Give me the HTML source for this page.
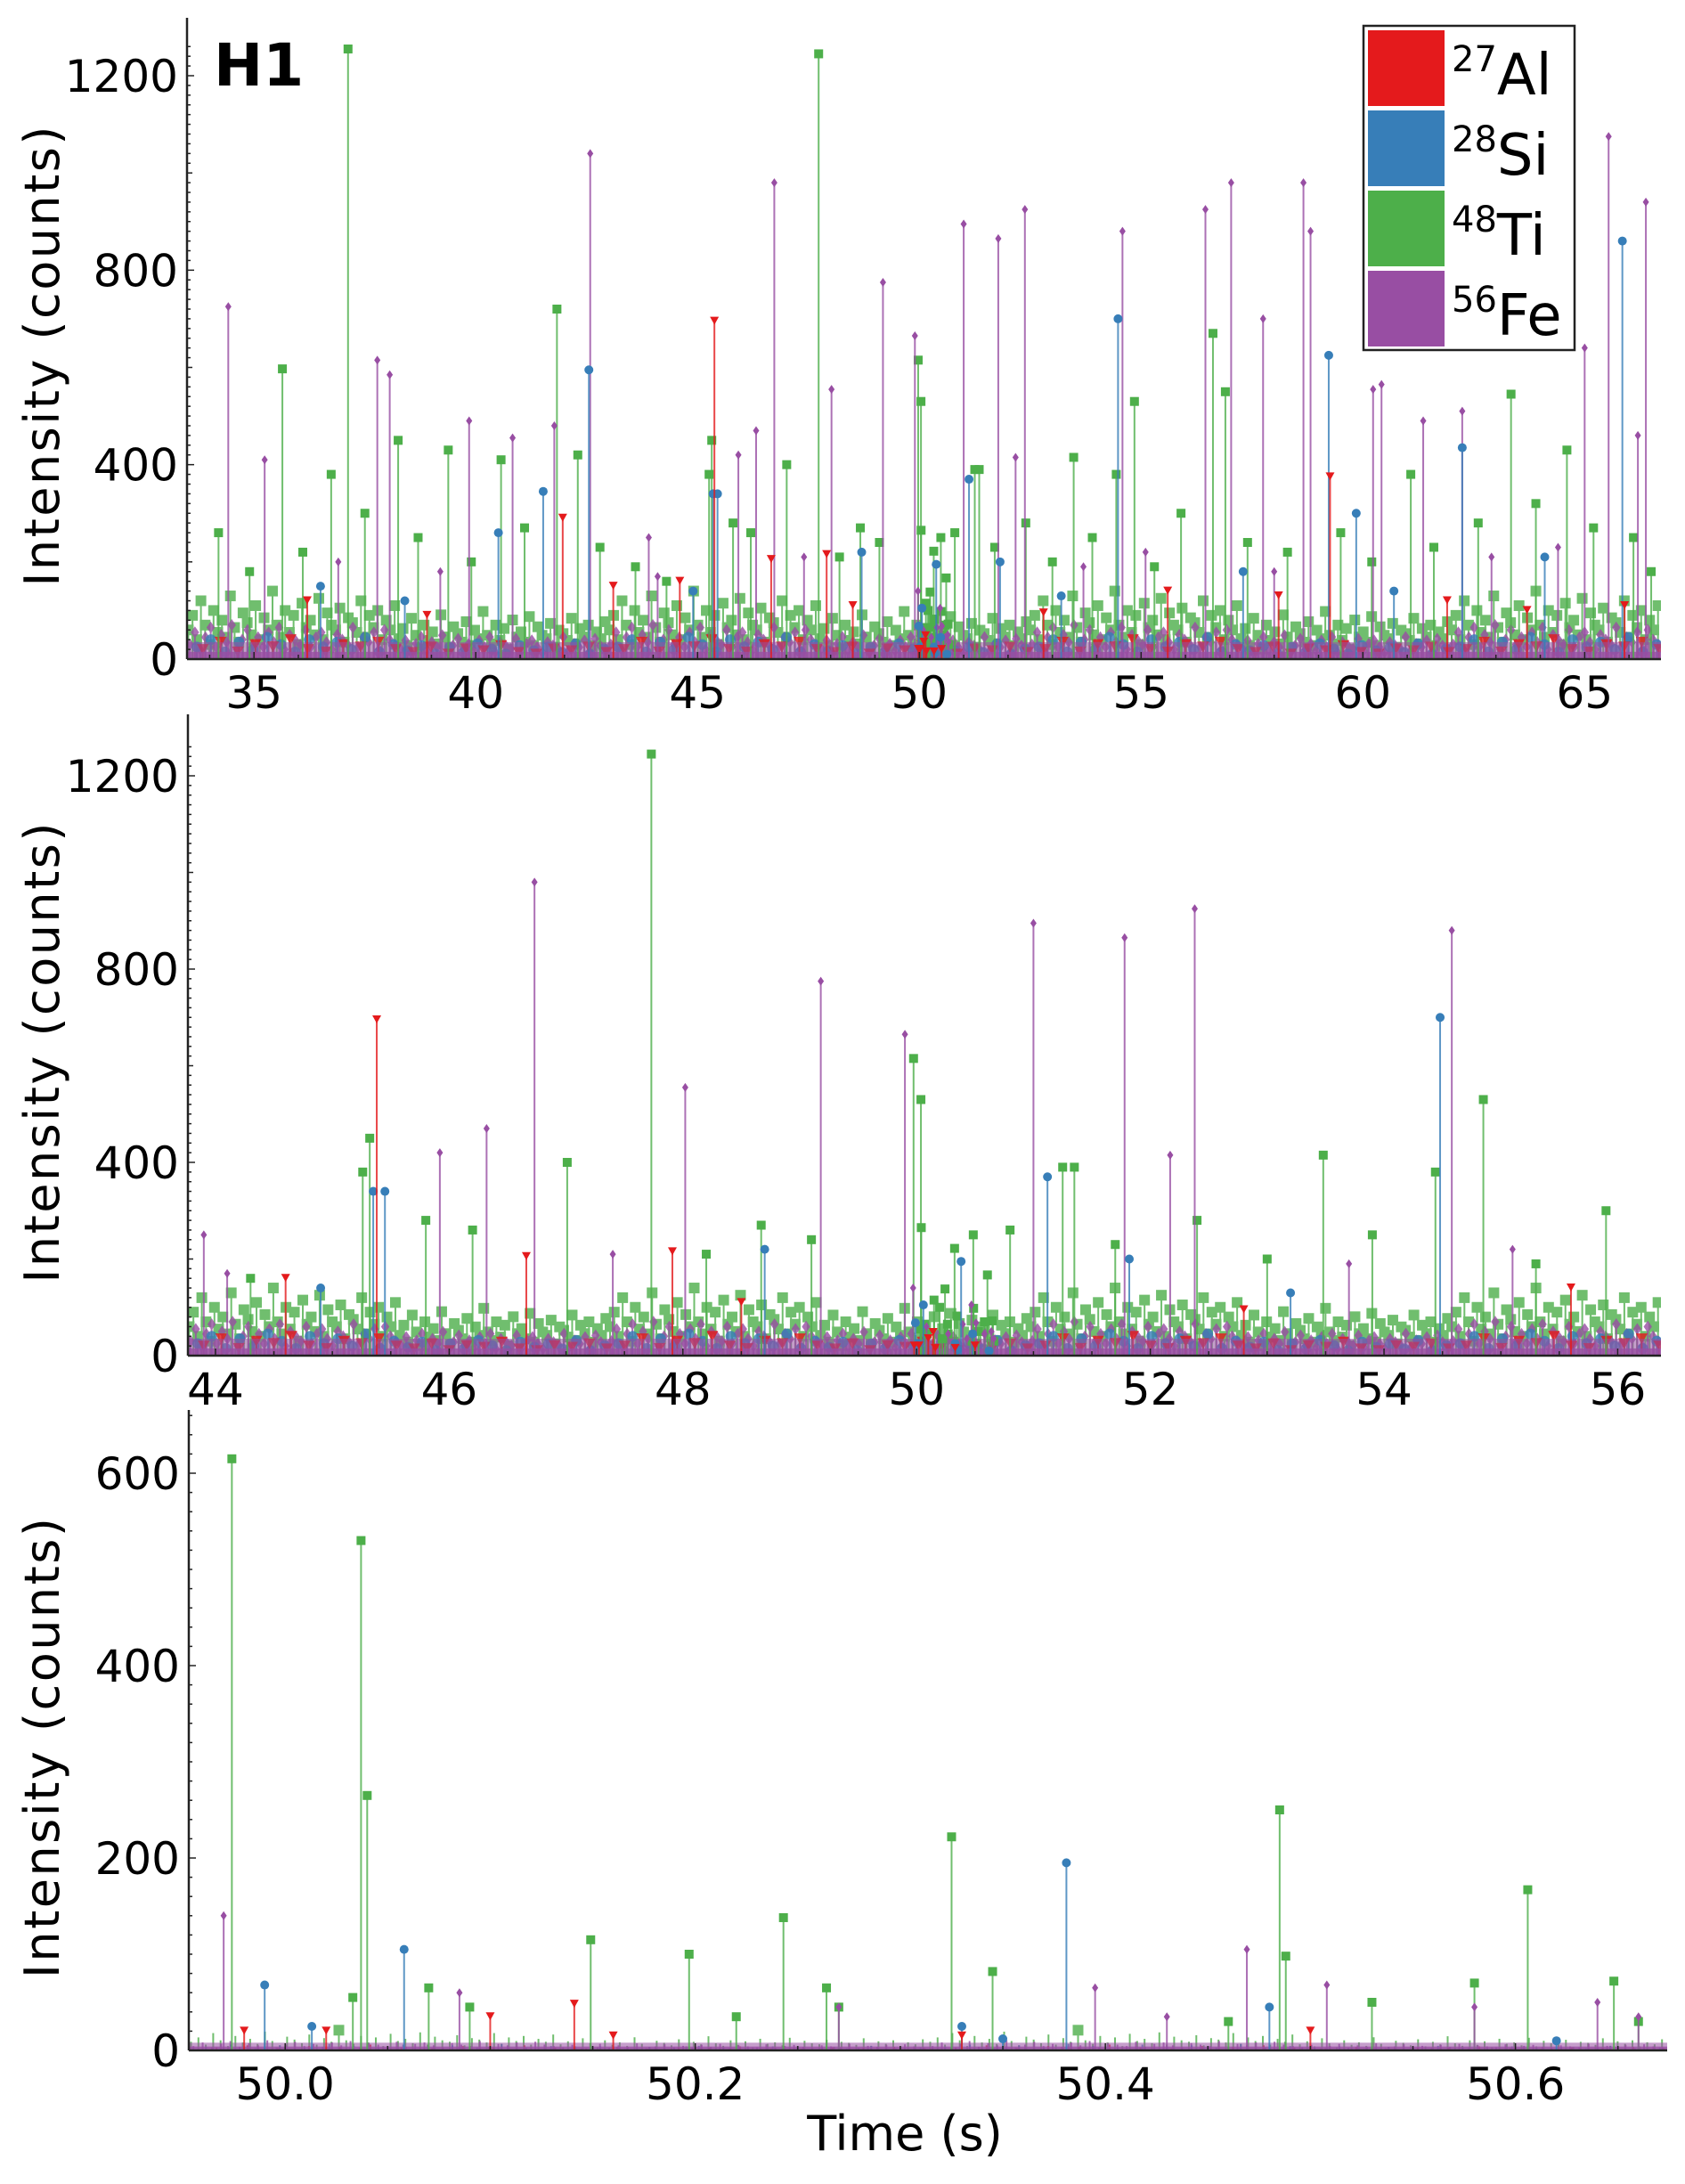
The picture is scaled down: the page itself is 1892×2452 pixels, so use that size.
<!DOCTYPE html>
<html><head><meta charset="utf-8"><style>
html,body{margin:0;padding:0;background:#fff}
svg{display:block}
text{font-family:"DejaVu Sans","Liberation Sans",sans-serif;fill:#000}
</style></head><body>
<svg id="chart" width="1892" height="2452" viewBox="0 0 1892 2452" xmlns="http://www.w3.org/2000/svg"></svg>
<script>
// ---- data (time s, counts) ----
const alTimes=[45.38,59.26,41.96,47.91,46.66,50.141,50.1,36.2,38.9,43.1,44.6,48.5,52.8,55.6,58.1,61.9,63.7,65.9,49.98,50.02,50.16,50.33,50.5];
const alVals =[695,375,290,215,205,48,35,120,90,150,160,110,95,140,130,120,100,110,20,20,15,15,20];
const siTimes=[54.48,42.55,59.23,65.85,62.24,51.12,41.52,45.35,45.45,40.51,59.85,51.82,50.381,50.058,49.99,50.013,36.5,38.4,44.9,48.7,53.2,57.3,60.7,64.1,50.33,50.35,50.48,50.62];
const siVals =[700,595,625,860,435,370,345,340,340,260,300,200,195,105,68,25,150,120,140,220,130,180,140,210,25,12,45,10];
const tiTimes=[37.12,47.73,41.83,35.64,49.974,50.037,50.04,56.62,63.34,38.25,45.32,45.26,47.01,39.38,40.57,56.9,54.85,64.6,42.3,36.74,51.25,51.35,53.48,61.08,54.44,48.67,50.149,50.197,50.243,50.325,50.345,50.485,50.488,50.606,50.648,50.264,50.033,
 50.07,50.09,50.22,50.27,50.46,50.53,50.58,50.66,
 34.2,34.9,36.1,37.5,38.7,39.9,41.1,42.8,43.6,44.3,45.8,46.2,48.2,49.1,50.8,51.7,52.4,53.0,53.9,55.3,55.9,57.4,58.3,59.5,60.2,61.6,62.6,63.9,65.2,66.1,66.5];
const tiVals =[1255,1245,720,597,615,530,265,670,545,450,450,380,400,430,410,550,530,430,420,380,390,390,415,380,380,270,115,100,138,222,82,250,98,167,72,65,55,
 65,45,35,45,30,50,70,30,
 260,180,220,300,250,200,270,230,190,160,280,260,210,240,260,230,280,200,250,190,300,240,220,260,200,230,280,320,270,250,180];
const feTimes=[34.42,42.58,46.73,49.18,49.9,51.0,51.78,52.38,54.58,56.45,57.03,57.75,58.66,58.82,60.23,65.54,66.38,46.32,48.02,37.78,38.06,39.85,40.83,41.77,60.42,62.24,65.0,66.2,35.24,61.36,45.92,52.17,49.97,50.469,50.508,50.395,50.085,
 50.27,50.43,50.58,50.64,50.66,
 36.9,39.2,43.9,44.1,47.4,53.7,55.1,58.0,62.9,64.4];
const feVals =[725,1040,980,775,665,895,865,925,880,925,980,700,980,880,555,1075,940,470,555,615,585,490,455,480,565,510,640,460,410,490,420,415,140,105,68,65,60,
 45,35,45,50,35,
 200,180,250,170,210,190,220,180,210,230];
// small baseline activity (values only, spread across each panel)
const noiseTi=[60,90,40,120,70,30,100,55,80,45,130,65,35,95,75,50,110,40,85,60,140,70,45,100,55,90,30,115,65,80,50,125,40,95,70,60,105,35,85,75,55,120,45,90,65,100,40,80,60,110];
const noiseFe=[30,55,20,45,65,25,50,35,70,20,40,60,30,45,25,55,35,65,20,50,40,30,60,25,45,55,35,20,50,40,30,65,25,45,35,55,20,60,40,30];
const noiseSi=[25,40,15,35,20,45,30,15,40,25,35,20,45,15,30];
const noiseAl=[20,35,15,30,25,40,20,15,30,25,35,20];
const xTicks1=[35,40,45,50,55,60,65];
const xTicks2=[44,46,48,50,52,54,56];
const xTicks3=[50.0,50.2,50.4,50.6];
const yTicks1=[0,400,800,1200];
const yTicks3=[0,200,400,600];

const COL={al:'#e41a1c',si:'#377eb8',ti:'#4daf4a',fe:'#984ea3'};
const NS='http://www.w3.org/2000/svg';
const svg=document.getElementById('chart');
function mk(tag,attrs,parent){const e=document.createElementNS(NS,tag);for(const k in attrs)e.setAttribute(k,attrs[k]);(parent||svg).appendChild(e);return e;}

const panels=[
 {id:1,x0:33.49,x1:66.72,L:210,R:1865,T:20,B:740,yMax:1200,yPx:655,xt:xTicks1,yt:yTicks1,xMinor:1,yMinor:20,dec:0,noiseSpread:1},
 {id:2,x0:43.764,x1:56.37,L:211,R:1865,T:802,B:1522,yMax:1200,yPx:651,xt:xTicks2,yt:yTicks1,xMinor:0.5,yMinor:20,dec:0,noiseSpread:1},
 {id:3,x0:49.953,x1:50.674,L:212,R:1872,T:1583,B:2302,yMax:600,yPx:648,xt:xTicks3,yt:yTicks3,xMinor:0.05,yMinor:20,dec:1,noiseSpread:0.3}
];

function marker(g,kind,x,y){
  let m;
  if(kind==='ti'){m=mk('rect',{x:x-5,y:y-5,width:10,height:10,fill:COL.ti},g);}
  else if(kind==='si'){m=mk('circle',{cx:x,cy:y,r:5,fill:COL.si},g);}
  else if(kind==='al'){m=mk('path',{d:`M${x-5},${y-5}L${x+5},${y-5}L${x},${y+4}Z`,fill:COL.al},g);}
  else {m=mk('path',{d:`M${x},${y-5}L${x+3.5},${y}L${x},${y+5}L${x-3.5},${y}Z`,fill:COL.fe},g);}
  
  
}

panels.forEach(p=>{
  const sx=t=>p.L+(t-p.x0)/(p.x1-p.x0)*(p.R-p.L);
  const sy=v=>p.B-v/p.yMax*p.yPx;
  const g=mk('g',{});
  
  
  const cp=mk('clipPath',{id:'cp'+p.id},g);
  mk('rect',{x:p.L,y:p.T-10,width:p.R-p.L,height:p.B-p.T+10},cp);
  const plot=mk('g',{'clip-path':`url(#cp${p.id})`},g);
  
  
  const nset=[['ti',noiseTi],['fe',noiseFe],['si',noiseSi],['al',noiseAl]];
  nset.forEach(([k,arr],si)=>{
    const ng=mk('g',{stroke:COL[k],'stroke-width':2,opacity:0.8},plot);
    
    
    const reps=p.id===3?4:7;
    for(let r=0;r<reps;r++){
      arr.forEach((v,i)=>{
        const n=arr.length*reps, idx=r*arr.length+i;
        const t=p.x0+(idx+0.3+si*0.2)/n*(p.x1-p.x0);
        const val=v*p.noiseSpread*(p.id===3?0.5:1)*((r%2)?0.7:1);
        const l=mk('line',{x1:sx(t),x2:sx(t),y1:p.B,y2:sy(val)},ng);
        
        
        if(p.id!==3 || val>20) marker(ng,k,sx(t),sy(val));
      });
    }
  });
  const band=mk('rect',{x:p.L,y:sy(p.id===3?8:35),width:p.R-p.L,height:p.B-sy(p.id===3?8:35),fill:COL.fe,opacity:0.55},plot);
  
  
  const band2=mk('rect',{x:p.L,y:sy(p.id===3?4:15),width:p.R-p.L,height:p.B-sy(p.id===3?4:15),fill:COL.fe,opacity:0.8},plot);
  
  
  const series=[['ti',tiTimes,tiVals],['fe',feTimes,feVals],['si',siTimes,siVals],['al',alTimes,alVals]];
  series.forEach(([k,ts,vs])=>{
    const sg=mk('g',{},plot);
    
    
    ts.forEach((t,i)=>{
      if(t<p.x0||t>p.x1) return;
      const x=sx(t),y=sy(vs[i]);
      const l=mk('line',{x1:x,x2:x,y1:p.B,y2:y,stroke:COL[k],'stroke-width':2,opacity:0.8},sg);
      
      
      marker(sg,k,x,y);
    });
  });
  const ax=mk('g',{stroke:'#222','stroke-width':2.5},g);
  
  
  mk('line',{x1:p.L,x2:p.L,y1:p.T,y2:p.B},ax);
  mk('line',{x1:p.L,x2:p.R,y1:p.B,y2:p.B},ax);
  for(let v=0;v<=p.yMax+p.yMinor*3;v+=p.yMinor){
    const y=sy(v); if(y<p.T) break;
    const len=p.yt.includes(v)?8:(v%200===0?6:4);
    mk('line',{x1:p.L,x2:p.L+len,y1:y,y2:y,'stroke-width':1.5},ax);
  }
  const nMin=Math.round((p.x1-p.x0)/p.xMinor)+2;
  const start=Math.ceil(p.x0/p.xMinor)*p.xMinor;
  for(let i=0;i<nMin;i++){
    const t=start+i*p.xMinor; if(t>p.x1) break;
    const major=p.xt.some(m=>Math.abs(m-t)<1e-6);
    mk('line',{x1:sx(t),x2:sx(t),y1:p.B,y2:p.B-(major?8:5),'stroke-width':1.5},ax);
  }
  p.xt.forEach(t=>{
    const tx=mk('text',{x:sx(t),y:p.B+55,'font-size':50,'text-anchor':'middle'},g);
    tx.textContent=t.toFixed(p.dec);
    
    
  });
  p.yt.forEach(v=>{
    const ty=mk('text',{x:p.L-10,y:sy(v)+18,'font-size':50,'text-anchor':'end'},g);
    ty.textContent=String(v);
    
    
  });
  const cy=(p.T+p.B)/2+20;
  const yt=mk('text',{x:0,y:0,'font-size':54,'text-anchor':'middle',transform:`translate(66,${cy}) rotate(-90)`,textLength:517,lengthAdjust:'spacing'},g);
  yt.textContent='Intensity (counts)';
  
  
});

const h1=mk('text',{x:240,y:96,'font-size':66,'font-weight':'bold'});
h1.textContent='H1';


const xt=mk('text',{x:1016,y:2414,'font-size':54,'text-anchor':'middle'});
xt.textContent='Time (s)';


const lg=mk('g',{});


mk('rect',{x:1531,y:29,width:237,height:364,fill:'#fff',stroke:'#222','stroke-width':2.5},lg);
const legItems=[['al','27','Al'],['si','28','Si'],['ti','48','Ti'],['fe','56','Fe']];
legItems.forEach(([k,iso,el],i)=>{
  const y0=34+i*90;
  const sw=mk('rect',{x:1536,y:y0,width:86,height:85,fill:COL[k]},lg);
  
  
  const t=mk('text',{x:1630,y:y0+72,'font-size':64,'font-family':'Liberation Sans, sans-serif'},lg);
  const s1=mk('tspan',{'font-size':40,dy:-26},t); s1.textContent=iso;
  const s2=mk('tspan',{dy:26},t); s2.textContent=el;
  
  
});
</script>
</body></html>
